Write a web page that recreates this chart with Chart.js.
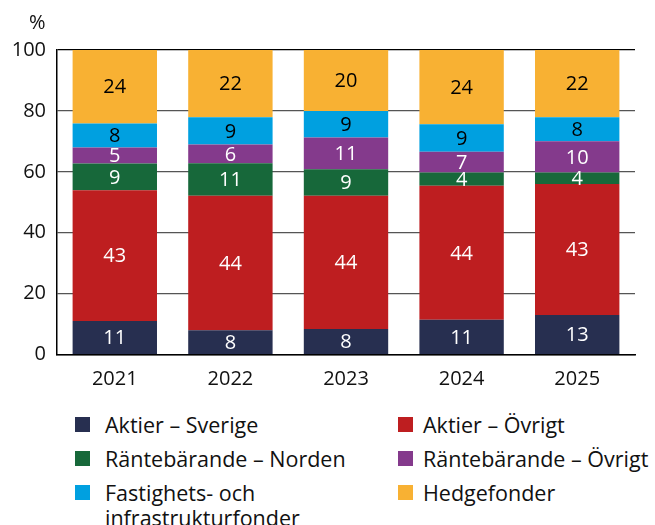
<!DOCTYPE html>
<html>
<head>
<meta charset="utf-8">
<script src="https://cdn.jsdelivr.net/npm/chart.js@4/dist/chart.umd.min.js"></script>
<style>
    html, body { margin: 0; padding: 0; background: #fff; }
    body { width: 655px; height: 525px; position: relative; overflow: hidden; font-family: "Open Sans", Lato, sans-serif; color: #111; }
    #wrap { position: absolute; left: 0; top: 0; width: 655px; height: 395px; }
    #unit { position: absolute; left: 29px; top: 8px; font-size: 20px; }
    #legend { position: absolute; left: 75px; top: 412px; width: 580px; display: grid; grid-template-columns: 323px 257px; row-gap: 9px; font-size: 21.5px; line-height: 25px; white-space: nowrap; }
    .item { display: flex; align-items: flex-start; }
    .sw { width: 15px; height: 15px; flex: none; margin-top: 5px; margin-right: 15px; }
    .item:nth-child(even) .sw { margin-right: 10px; }
</style>
</head>
<body>
<div id="wrap"><canvas id="chart" width="655" height="395"></canvas></div>
<div id="unit">%</div>
<div id="legend"></div>
<script>
const years = ['2021', '2022', '2023', '2024', '2025'];

// andelar i procent, nedifrån och upp
const aktierSverige = [11.0, 8.0, 8.4, 11.4, 13.0];
const aktierOvrigt = [42.9, 44.1, 43.7, 44.0, 43.0];
const ranteNorden = [8.8, 10.7, 8.7, 4.4, 3.8];
const ranteOvrigt = [5.3, 6.2, 10.5, 6.8, 10.2];
const fastigheter = [7.9, 8.9, 8.7, 9.0, 7.9];
const hedgefonder = [24.1, 22.1, 20.0, 24.4, 22.1];

const yTicks = [0, 20, 40, 60, 80, 100];

const series = [
    { label: 'Aktier – Sverige', data: aktierSverige, color: '#272f50', text: '#fff' },
    { label: 'Aktier – Övrigt', data: aktierOvrigt, color: '#be1e20', text: '#fff' },
    { label: 'Räntebärande – Norden', data: ranteNorden, color: '#17683a', text: '#fff' },
    { label: 'Räntebärande – Övrigt', data: ranteOvrigt, color: '#843a8c', text: '#fff' },
    { label: 'Fastighets- och infrastrukturfonder', data: fastigheter, color: '#00a0e0', text: '#000' },
    { label: 'Hedgefonder', data: hedgefonder, color: '#f8b133', text: '#000' },
];

const font = '"Open Sans", Lato, sans-serif';

const segmentLabels = {
    id: 'segmentLabels',
    afterDatasetsDraw(chart) {
        const { ctx } = chart;
        ctx.save();
        ctx.font = `20px ${font}`;
        ctx.textAlign = 'center';
        ctx.textBaseline = 'middle';
        chart.data.datasets.forEach((ds, i) => {
            const meta = chart.getDatasetMeta(i);
            meta.data.forEach((bar, j) => {
                const v = ds.data[j];
                ctx.fillStyle = series[i].text;
                ctx.fillText(String(Math.round(v)), bar.x, (bar.y + bar.base) / 2 + 1);
            });
        });
        ctx.restore();
    },
};

new Chart(document.getElementById('chart'), {
    type: 'bar',
    data: {
        labels: years,
        datasets: series.map((s) => ({
            label: s.label,
            data: s.data,
            backgroundColor: s.color,
            borderWidth: 0,
            barPercentage: 0.73,
            categoryPercentage: 1,
        })),
    },
    options: {
        responsive: false,
        animation: false,
        layout: { padding: { left: 0, right: 20, top: 50, bottom: 0 } },
        plugins: {
            legend: { display: false },
            tooltip: { enabled: false },
        },
        scales: {
            x: {
                stacked: true,
                grid: { display: false },
                border: { color: '#000', width: 1.5 },
                ticks: { color: '#111', font: { family: font, size: 20 }, padding: 5 },
                afterFit: (s) => { s.height = 40.5; },
            },
            y: {
                stacked: true,
                min: 0,
                max: 100,
                afterBuildTicks: (s) => { s.ticks = yTicks.map((v) => ({ value: v })); },
                grid: { color: (c) => (c.tick.value === 100 ? '#000' : '#555'), lineWidth: 1.2, drawTicks: false },
                border: { color: '#000', width: 1.5 },
                ticks: { color: '#111', font: { family: font, size: 20 }, padding: 11 },
                afterFit: (s) => { s.width = 57; },
            },
        },
    },
    plugins: [segmentLabels],
});

const legend = document.getElementById('legend');
series.forEach((s) => {
    const item = document.createElement('div');
    item.className = 'item';
    const sw = document.createElement('span');
    sw.className = 'sw';
    sw.style.background = s.color;
    const txt = document.createElement('span');
    txt.textContent = s.label;
    if (s.label.startsWith('Fastighets')) txt.innerHTML = 'Fastighets- och<br>infrastrukturfonder';
    item.appendChild(sw);
    item.appendChild(txt);
    legend.appendChild(item);
});
</script>
</body>
</html>
